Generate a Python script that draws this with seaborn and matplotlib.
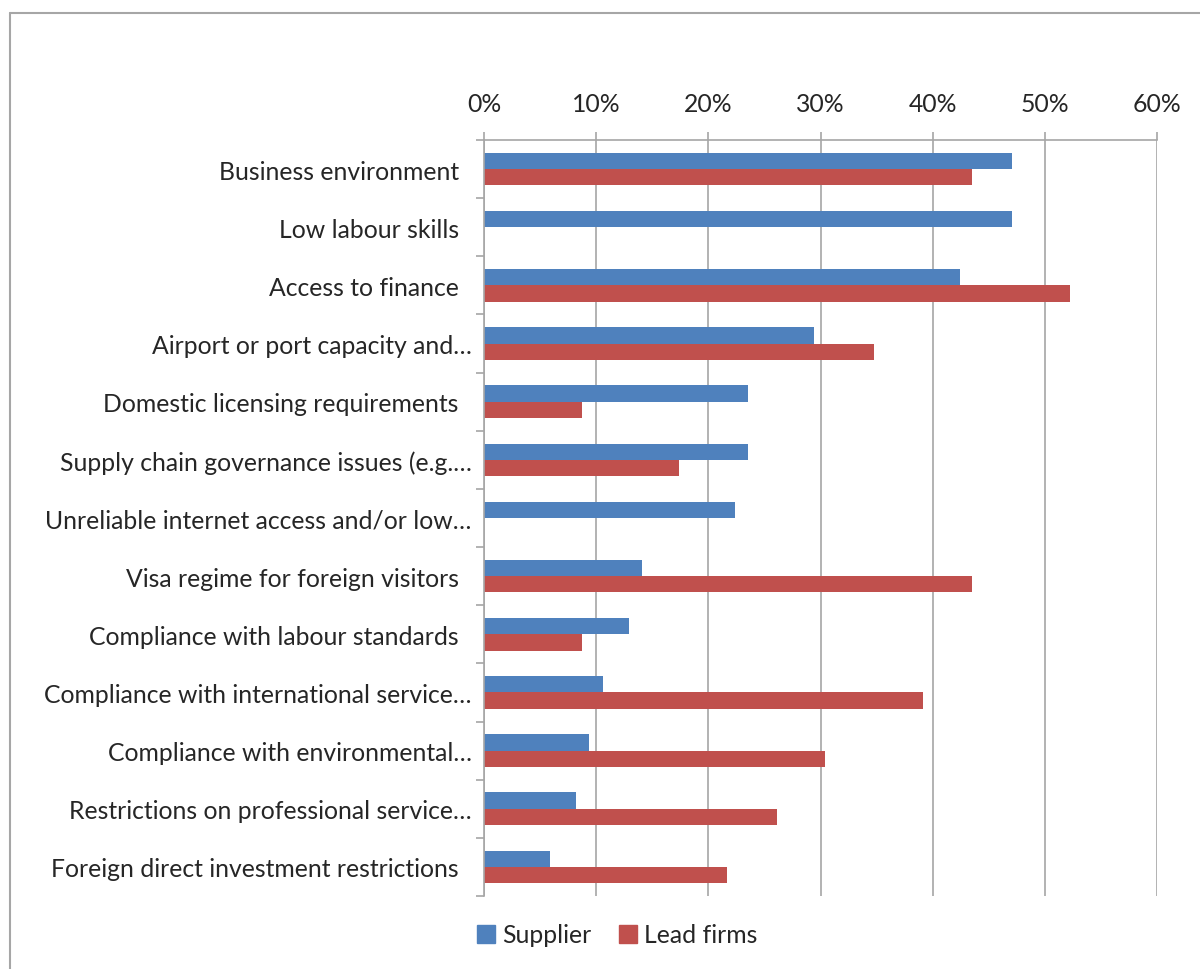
import matplotlib
matplotlib.use("Agg")
import matplotlib.pyplot as plt
from matplotlib.lines import Line2D
from matplotlib.ticker import PercentFormatter, FixedLocator
import seaborn as sns
import pandas as pd

categories = [
    "Business environment",
    "Low labour skills",
    "Access to finance",
    "Airport or port capacity and\u2026",
    "Domestic licensing requirements",
    "Supply chain governance issues (e.g.\u2026",
    "Unreliable internet access and/or low\u2026",
    "Visa regime for foreign visitors",
    "Compliance with labour standards",
    "Compliance with international service\u2026",
    "Compliance with environmental\u2026",
    "Restrictions on professional service\u2026",
    "Foreign direct investment restrictions",
]
supplier = [47.1, 47.1, 42.4, 29.4, 23.5, 23.5, 22.4, 14.1, 12.9, 10.6, 9.4, 8.2, 5.9]
lead_firms = [43.5, 0.0, 52.2, 34.8, 8.7, 17.4, 0.0, 43.5, 8.7, 39.1, 30.4, 26.1, 21.7]
series_names = ["Supplier", "Lead firms"]
x_ticks = [0, 10, 20, 30, 40, 50, 60]

df = pd.DataFrame({
    "category": categories * 2,
    "value": supplier + lead_firms,
    "series": [series_names[0]] * len(categories) + [series_names[1]] * len(categories),
})

sns.set_theme(style="white")
plt.rcParams["font.family"] = ["Lato", "DejaVu Sans"]

GRID = "#A6A6A6"
TEXT = "#262626"
FS = 17.8
colors = {"Supplier": "#4F81BD", "Lead firms": "#C0504D"}

fig = plt.figure(figsize=(12, 9.7), dpi=100)
ax = fig.add_axes([484 / 1200, 1 - 897 / 970, (1157 - 484) / 1200, (897 - 141) / 970])

sns.barplot(data=df, x="value", y="category", hue="series", orient="h",
            palette=colors, saturation=1, width=0.56, linewidth=0,
            ax=ax, legend=False)

ax.set_xlim(0, 60)
ax.set_ylim(len(categories) - 0.5, -0.5)
ax.set_xlabel("")
ax.set_ylabel("")

# percentage axis on top
ax.xaxis.tick_top()
ax.set_xticks(x_ticks)
ax.xaxis.set_major_formatter(PercentFormatter(decimals=0))
ax.tick_params(axis="x", which="major", length=6, width=1.2, color=GRID,
               labelsize=FS, labelcolor=TEXT, pad=12)
ax.grid(axis="x", color=GRID, linewidth=1.2)
ax.set_axisbelow(True)

# category labels centred, tick marks on the boundaries; full-length labels
# keep a little trailing room, shortened ones run up to the axis
ax.set_yticks(range(len(categories)))
ax.set_yticklabels([c if c.endswith("\u2026") else c + "  " for c in categories])
ax.yaxis.set_minor_locator(FixedLocator([i - 0.5 for i in range(len(categories) + 1)]))
ax.tick_params(axis="y", which="major", length=0, labelsize=FS, labelcolor=TEXT, pad=9)
ax.tick_params(axis="y", which="minor", length=6, width=1.2, color=GRID, left=True)

for side in ["right", "bottom"]:
    ax.spines[side].set_visible(False)
for side in ["left", "top"]:
    ax.spines[side].set_color(GRID)
    ax.spines[side].set_linewidth(1.2)

handles = [Line2D([0], [0], marker="s", linestyle="none", markersize=13,
                  markerfacecolor=colors[s], markeredgecolor=colors[s]) for s in series_names]
fig.legend(handles, series_names, loc="center", bbox_to_anchor=(617 / 1200, 1 - 936 / 970),
           ncol=2, frameon=False, fontsize=FS, handlelength=0.8, handletextpad=0.25,
           columnspacing=1.1, labelcolor=TEXT)

# outer chart border
fig.add_artist(Line2D([10 / 1200, 10 / 1200], [0, 1 - 14 / 970], transform=fig.transFigure,
                      color=GRID, linewidth=1.5))
fig.add_artist(Line2D([10 / 1200, 1], [1 - 14 / 970, 1 - 14 / 970], transform=fig.transFigure,
                      color=GRID, linewidth=1.5))

fig.savefig("out.png", dpi=100)
